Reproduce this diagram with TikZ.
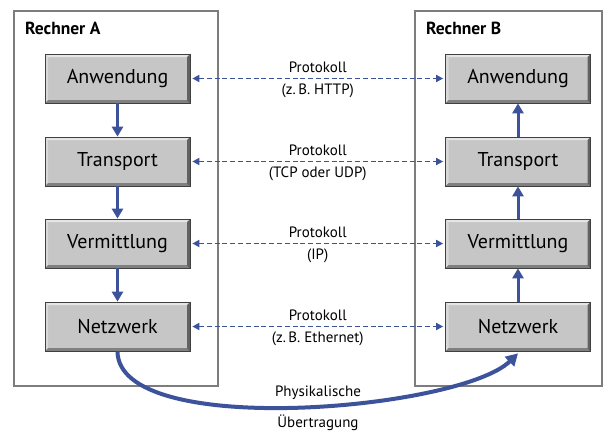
\documentclass[tikz,border=0pt]{standalone}
\usepackage{fontspec}
\setmainfont{PT Sans}
\usetikzlibrary{arrows.meta}
\definecolor{linkblue}{RGB}{60,82,155}
\definecolor{boxgray}{RGB}{198,198,198}
\definecolor{framegray}{RGB}{125,125,125}
\tikzset{
  host/.style={draw=framegray, line width=1.8pt, fill=white},
  hosttitle/.style={anchor=west, font=\fontsize{17.5}{19}\selectfont\bfseries, inner sep=0},
  layer/.style={minimum width=145pt, minimum height=49pt, inner sep=0, fill=boxgray,
    draw=black!75, line width=0.7pt, font=\fontsize{20}{22}\selectfont,
    path picture={
      \fill[white,opacity=0.55] (path picture bounding box.north west) -- (path picture bounding box.north east)
        -- ([xshift=-3pt,yshift=-3pt]path picture bounding box.north east) -- ([xshift=3pt,yshift=-3pt]path picture bounding box.north west) -- cycle;
      \fill[white,opacity=0.35] (path picture bounding box.north west) -- ([xshift=3pt,yshift=-3pt]path picture bounding box.north west)
        -- ([xshift=3pt,yshift=3pt]path picture bounding box.south west) -- (path picture bounding box.south west) -- cycle;
      \fill[black,opacity=0.35] (path picture bounding box.south west) -- (path picture bounding box.south east)
        -- ([xshift=-3pt,yshift=3pt]path picture bounding box.south east) -- ([xshift=3pt,yshift=3pt]path picture bounding box.south west) -- cycle;
      \fill[black,opacity=0.5] (path picture bounding box.north east) -- (path picture bounding box.south east)
        -- ([xshift=-3pt,yshift=3pt]path picture bounding box.south east) -- ([xshift=-3pt,yshift=-3pt]path picture bounding box.north east) -- cycle;
    }},
  down/.style={draw=linkblue, line width=3pt, -{Triangle[width=11pt,length=10pt]}},
  proto/.style={draw=linkblue, line width=1.6pt, dash pattern=on 5pt off 2.8pt,
    {Triangle[width=7pt,length=7pt]}-{Triangle[width=7pt,length=7pt]}},
  plabel/.style={font=\fontsize{15}{17}\selectfont, inner sep=0},
}
\begin{document}
\begin{tikzpicture}[x=1pt,y=-1pt]
\useasboundingbox (0,0) rectangle (610,432);

% the two hosts
\draw[host] (14,11) rectangle (218,386);
\draw[host] (415,11) rectangle (602,386);
\node[hosttitle] (tA) at (25,28) {Rechner A};
\node[hosttitle] (tB) at (426,28) {Rechner B};

% layer stacks
\node[layer] (A1) at (117.5,78.5) {Anwendung};
\node[layer] (A2) at (117.5,161.5) {Transport};
\node[layer] (A3) at (117.5,243.5) {Vermittlung};
\node[layer] (A4) at (117.5,326.5) {Netzwerk};
\node[layer] (B1) at (518,78.5) {Anwendung};
\node[layer] (B2) at (518,161.5) {Transport};
\node[layer] (B3) at (518,243.5) {Vermittlung};
\node[layer] (B4) at (518,326.5) {Netzwerk};

% data path down through A and up through B
\draw[down] (A1) -- (A2);
\draw[down] (A2) -- (A3);
\draw[down] (A3) -- (A4);
\draw[down] (B4) -- (B3);
\draw[down] (B3) -- (B2);
\draw[down] (B2) -- (B1);

% peer protocols
\draw[proto] ([xshift=2pt]A1.east) -- ([xshift=-2pt]B1.west)
  node[plabel, midway, above=5pt] (p1a) {Protokoll}
  node[plabel, midway, below=5pt] (p1b) {(z.\,B. HTTP)};
\draw[proto] ([xshift=2pt]A2.east) -- ([xshift=-2pt]B2.west)
  node[plabel, midway, above=5pt] (p2a) {Protokoll}
  node[plabel, midway, below=5pt] (p2b) {(TCP oder UDP)};
\draw[proto] ([xshift=2pt]A3.east) -- ([xshift=-2pt]B3.west)
  node[plabel, midway, above=5pt] (p3a) {Protokoll}
  node[plabel, midway, below=5pt] (p3b) {(IP)};
\draw[proto] ([xshift=2pt]A4.east) -- ([xshift=-2pt]B4.west)
  node[plabel, midway, above=5pt] (p4a) {Protokoll}
  node[plabel, midway, below=5pt] (p4b) {(z.\,B. Ethernet)};

% physical link
\draw[draw=linkblue, line width=4pt, -{Triangle[width=13pt,length=12pt]}]
  (A4.south) .. controls (118,440) and (460,410) .. ([yshift=-2pt]B4.south);
\node[plabel] (ph1) at (318,393) {Physikalische};
\node[plabel] (ph2) at (318,423) {Übertragung};
\end{tikzpicture}
\end{document}
